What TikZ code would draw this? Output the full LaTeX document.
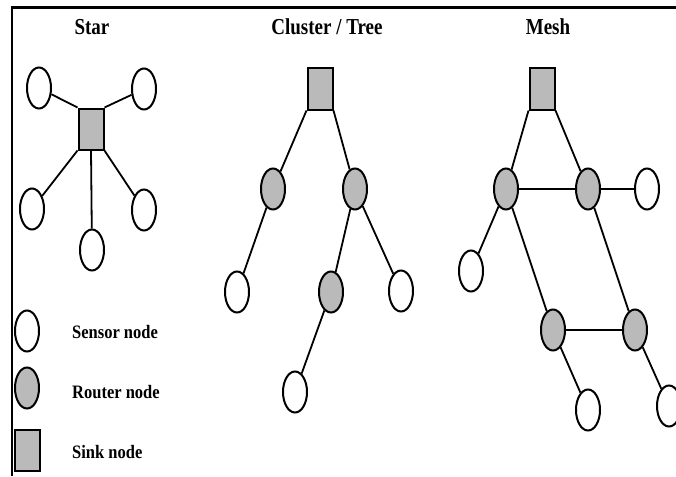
\documentclass[tikz,border=0pt]{standalone}
\usepackage{fontspec}
\setmainfont{Liberation Serif}
\begin{document}
\begin{tikzpicture}[x=1pt,y=-1pt,
  sensor/.style={draw=black,line width=2pt,fill=white,ellipse,minimum width=24pt,minimum height=41pt,inner sep=0pt},
  router/.style={sensor,fill=black!27},
  sink/.style={draw=black,line width=2pt,fill=black!27,rectangle,minimum width=25pt,minimum height=41pt,inner sep=0pt},
  link/.style={line width=1.8pt},
  title/.style={font=\fontsize{19}{19}\selectfont\bfseries,inner sep=0pt},
  legend/.style={font=\fontsize{16.5}{16.5}\selectfont\bfseries,inner sep=0pt,anchor=west}]
\usetikzlibrary{shapes.geometric}
\useasboundingbox (0,0) rectangle (676,476);
\fill[white] (0,0) rectangle (676,476);
\draw[line width=2.6pt] (12,476) -- (12,7.5) -- (676,7.5);

% titles
\node[title] (tstar) at (92,27) {\scalebox{1}[1.2]{Star}};
\node[title] (tclus) at (327,27) {\scalebox{1}[1.2]{Cluster / Tree}};
\node[title] (tmesh) at (548,27) {\scalebox{1}[1.2]{Mesh}};

% Star
\node[sink] (ss) at (91,129) {};
\node[sensor] (s1) at (39,88) {};
\node[sensor] (s2) at (144,89) {};
\node[sensor] (s3) at (32,209) {};
\node[sensor] (s4) at (144,210) {};
\node[sensor] (s5) at (92,250) {};
\draw[link] (s1) -- (ss.north west);
\draw[link] (s2) -- (ss.north east);
\draw[link] (s3) -- (ss.south west);
\draw[link] (s5) -- (ss.south);
\draw[link] (s4) -- (ss.south east);

% Cluster / Tree
\node[sink] (cs) at (320,89) {};
\node[router] (cl) at (273,189) {};
\node[router] (cr) at (355,189) {};
\node[sensor] (cll) at (237,292) {};
\node[router] (cm) at (331,292) {};
\node[sensor] (crr) at (401,291) {};
\node[sensor] (cb) at (295,392) {};
\draw[link] (cs.south west) -- (cl);
\draw[link] (cs.south east) -- (cr);
\draw[link] (cl) -- (cll);
\draw[link] (cr) -- (cm);
\draw[link] (cr) -- (crr);
\draw[link] (cm) -- (cb);

% Mesh
\node[sink] (ms) at (542,89) {};
\node[router] (ma) at (506,189) {};
\node[router] (mb) at (588,189) {};
\node[sensor] (mc) at (647,189) {};
\node[sensor] (md) at (471,271) {};
\node[router] (me) at (553,330) {};
\node[router] (mf) at (635,330) {};
\node[sensor] (mg) at (588,410) {};
\node[sensor] (mh) at (669,406) {};
\draw[link] (ms.south west) -- (ma);
\draw[link] (ms.south east) -- (mb);
\draw[link] (ma) -- (mb);
\draw[link] (mb) -- (mc);
\draw[link] (ma) -- (md);
\draw[link] (ma) -- (me);
\draw[link] (mb) -- (mf);
\draw[link] (me) -- (mf);
\draw[link] (me) -- (mg);
\draw[link] (mf) -- (mh);

% Legend
\node[sensor] (lsen) at (27,331) {};
\node[router] (lrou) at (27,388) {};
\node[sink] (lsink) at (27.5,450) {};
\node[legend] (tsen) at (72,332) {\scalebox{1}[1.15]{Sensor node}};
\node[legend] (trou) at (72,392) {\scalebox{1}[1.15]{Router node}};
\node[legend] (tsink) at (72,452) {\scalebox{1}[1.15]{Sink node}};
\end{tikzpicture}
\end{document}
